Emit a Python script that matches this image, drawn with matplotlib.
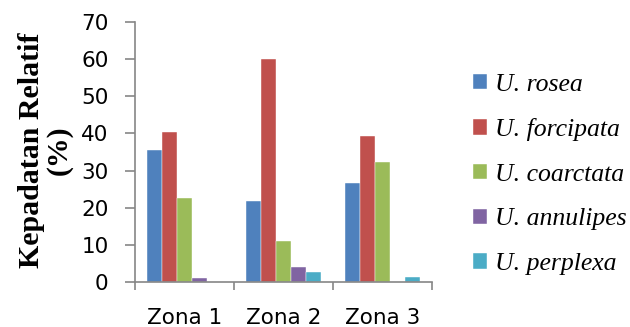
import numpy as np
import matplotlib.pyplot as plt

zones = ['Zona 1', 'Zona 2', 'Zona 3']
species = ['U. rosea', 'U. forcipata', 'U. coarctata', 'U. annulipes', 'U. perplexa']
rosea = [35.5, 21.8, 26.7]
forcipata = [40.4, 60.1, 39.4]
coarctata = [22.5, 11.0, 32.3]
annulipes = [1.1, 4.0, 0.0]
perplexa = [0.0, 2.6, 1.35]
colors = ['#4F81BD', '#C0504D', '#9BBB59', '#8064A2', '#4BACC6']

series = [rosea, forcipata, coarctata, annulipes, perplexa]

fig = plt.figure(figsize=(6.3, 3.27), dpi=100)
ax = fig.add_axes([0.2143, 0.1385, 0.4710, 0.7935])

x = np.arange(len(zones))
w = 0.152
for i, (vals, lab, c) in enumerate(zip(series, species, colors)):
    ax.bar(x + (i - 2) * w, vals, w, color=c, label=lab, edgecolor='white', linewidth=0.3)

ax.set_xlim(-0.5, 2.5)
ax.set_ylim(0, 70)
ax.set_yticks(range(0, 71, 10))
ax.set_xticks(x)
ax.set_xticklabels(zones)
ax.set_xticks([-0.5, 0.5, 1.5, 2.5], minor=True)
ax.tick_params(axis='x', which='major', length=0, pad=19, labelsize=15.5)
ax.tick_params(axis='x', which='minor', length=6, color='#868686', width=1.2)
ax.tick_params(axis='y', length=7, color='#868686', width=1.2, labelsize=15.5, pad=12)
for s in ['top', 'right']:
    ax.spines[s].set_visible(False)
for s in ['left', 'bottom']:
    ax.spines[s].set_color('#868686')
    ax.spines[s].set_linewidth(1.2)

fig.text(0.072, 0.541, 'Kepadatan Relatif\n(%)', rotation=90, ha='center', va='center',
         fontsize=21.5, fontweight='bold', family='Liberation Serif', linespacing=1.0,
         multialignment='center')

fig.legend(loc='upper left', bbox_to_anchor=(0.751, 0.775), frameon=False,
           prop={'family': 'Liberation Serif', 'style': 'italic', 'size': 18.5},
           handlelength=0.55, handleheight=0.55, handletextpad=0.3, labelspacing=0.88,
           borderaxespad=0, borderpad=0)

fig.savefig('out.png', dpi=100)
